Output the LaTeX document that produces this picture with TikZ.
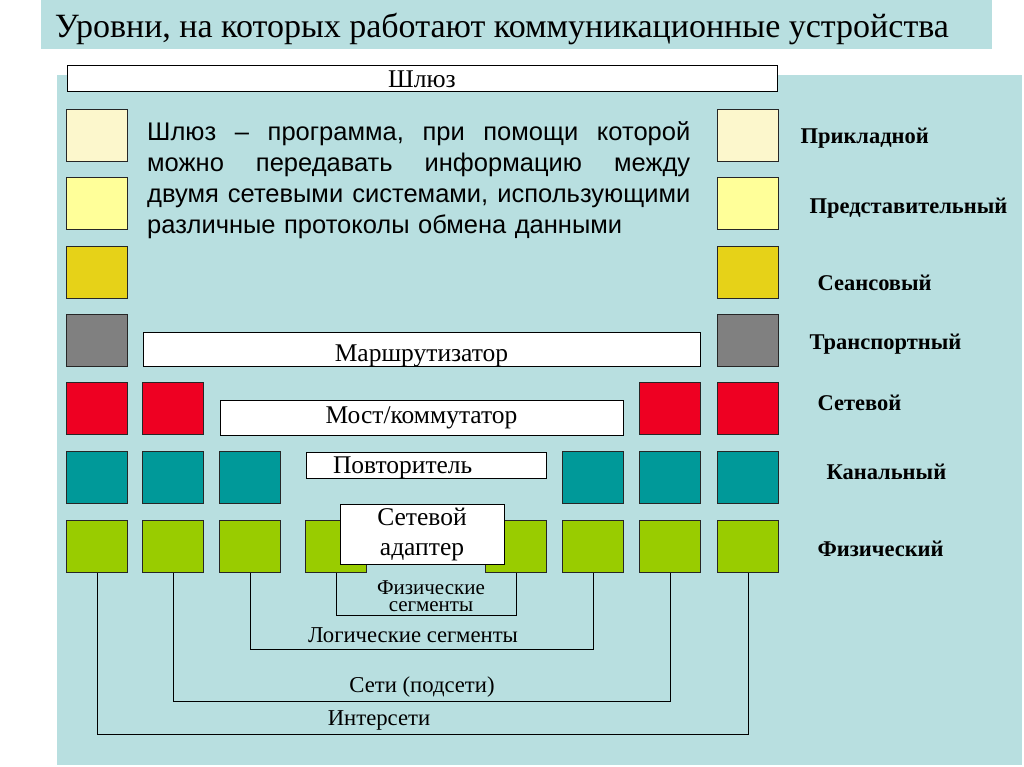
\documentclass[tikz,border=0pt]{standalone}
\usepackage{fontspec}
\setmainfont{Liberation Serif}
\newfontfamily\descfont{Liberation Sans}
\usetikzlibrary{positioning}

\definecolor{panelbg}{RGB}{184,223,224}
\definecolor{lvlapp}{RGB}{252,247,204}
\definecolor{lvlpres}{RGB}{255,255,153}
\definecolor{lvlsess}{RGB}{230,210,24}
\definecolor{lvltrans}{RGB}{128,128,128}
\definecolor{lvlnet}{RGB}{238,0,34}
\definecolor{lvllink}{RGB}{0,153,153}
\definecolor{lvlphys}{RGB}{153,204,0}

\begin{document}
\begin{tikzpicture}[x=1pt, y=-1pt,
    lvl/.style={draw=black!85, line width=0.8pt, minimum width=61pt, minimum height=52pt, inner sep=0pt},
    devbox/.style={draw, fill=white, line width=1pt, inner sep=0pt, font=\fontsize{25.5}{27}\selectfont},
    lvllabel/.style={anchor=west, font=\bfseries\fontsize{22.5}{24}\selectfont},
    seglabel/.style={font=\fontsize{22.7}{24}\selectfont}]
    \useasboundingbox (0,0) rectangle (1024,767);

    % Title and background panel
    \fill[panelbg] (41,0) rectangle (992,49);
    \node (title) at (502,29) {\fontsize{34}{36}\selectfont Уровни, на которых работают коммуникационные устройства};
    \fill[panelbg] (57,75) rectangle (1022,765);

    % Gateway
    \node[devbox, minimum width=710pt, minimum height=26pt] (gw) at (422,79) {Шлюз};
    \node[anchor=north west, text width=543pt, align=left, inner sep=0pt,
          font=\descfont\fontsize{25.5}{31}\selectfont] (gwdesc) at (147,121)
        {\makebox[543pt]{Шлюз\hfill–\hfill программа,\hfill при\hfill помощи\hfill которой}\\
         \makebox[543pt]{можно\hfill передавать\hfill информацию\hfill между}\\
         \makebox[543pt]{двумя\hfill сетевыми\hfill системами,\hfill использующими}\\
         различные протоколы обмена данными};

    % Level squares, left and right columns
    \foreach \c/\y/\n in {lvlapp/135/1, lvlpres/203.5/2, lvlsess/272/3, lvltrans/340.5/4, lvlnet/408.5/5, lvllink/477.5/6, lvlphys/546.5/7} {
        \node[lvl, fill=\c] (l\n) at (97,\y) {};
        \node[lvl, fill=\c] (r\n) at (748,\y) {};
    }

    % Network layer
    \node[lvl, fill=lvlnet] (n2) at (173,408.5) {};
    \node[lvl, fill=lvlnet] (n7) at (670,408.5) {};

    % Data link layer
    \node[lvl, fill=lvllink] (k2) at (173,477.5) {};
    \node[lvl, fill=lvllink] (k3) at (250,477.5) {};
    \node[lvl, fill=lvllink] (k6) at (593,477.5) {};
    \node[lvl, fill=lvllink] (k7) at (670,477.5) {};

    % Physical layer
    \node[lvl, fill=lvlphys] (f2) at (173,546.5) {};
    \node[lvl, fill=lvlphys] (f3) at (250,546.5) {};
    \node[lvl, fill=lvlphys] (f4) at (336,546.5) {};
    \node[lvl, fill=lvlphys] (f5) at (516,546.5) {};
    \node[lvl, fill=lvlphys] (f6) at (593,546.5) {};
    \node[lvl, fill=lvlphys] (f7) at (670,546.5) {};

    % Devices
    \node[devbox, minimum width=557pt, minimum height=34pt, text height=29pt, text depth=5pt] (router) at (421.5,349) {Маршрутизатор};
    \node[devbox, minimum width=403pt, minimum height=35pt] (bridge) at (421.5,417.5) {Мост/коммутатор};
    \node[devbox, minimum width=240pt, minimum height=26pt, text width=186pt, align=left,
          text height=21pt, text depth=5pt] (repeater) at (426,465) {Повторитель};
    \node[devbox, minimum width=164pt, minimum height=60pt, align=center,
          font=\fontsize{25.5}{30}\selectfont] (nic) at (422,534) {Сетевой\\адаптер};

    % Level names
    \node[lvllabel] (n-app) at (797,138) {Прикладной};
    \node[lvllabel] (n-pres) at (806,208) {Представительный};
    \node[lvllabel] (n-sess) at (814,283) {Сеансовый};
    \node[lvllabel] (n-trans) at (806,344) {Транспортный};
    \node[lvllabel] (n-net) at (814,403) {Сетевой};
    \node[lvllabel] (n-link) at (823,472) {Канальный};
    \node[lvllabel] (n-phys) at (814,549) {Физический};

    % Segment brackets
    \coordinate (physseg) at (0,615);
    \coordinate (logseg) at (0,649);
    \coordinate (subnet) at (0,701);
    \coordinate (inet) at (0,734);
    \draw[thick] (f4.south) -- (f4.south |- physseg) -| (f5.south);
    \draw[thick] (f3.south) -- (f3.south |- logseg) -| (f6.south);
    \draw[thick] (f2.south) -- (f2.south |- subnet) -| (f7.south);
    \draw[thick] (l7.south) -- (l7.south |- inet) -| (r7.south);

    \node[seglabel, align=center, font=\fontsize{21}{17.5}\selectfont] (t-phys) at (431,596) {Физические\\сегменты};
    \node[seglabel] (t-log) at (413,635) {Логические сегменты};
    \node[seglabel] (t-sub) at (422,687) {Сети (подсети)};
    \node[seglabel] (t-inet) at (379,720) {Интерсети};
\end{tikzpicture}
\end{document}
